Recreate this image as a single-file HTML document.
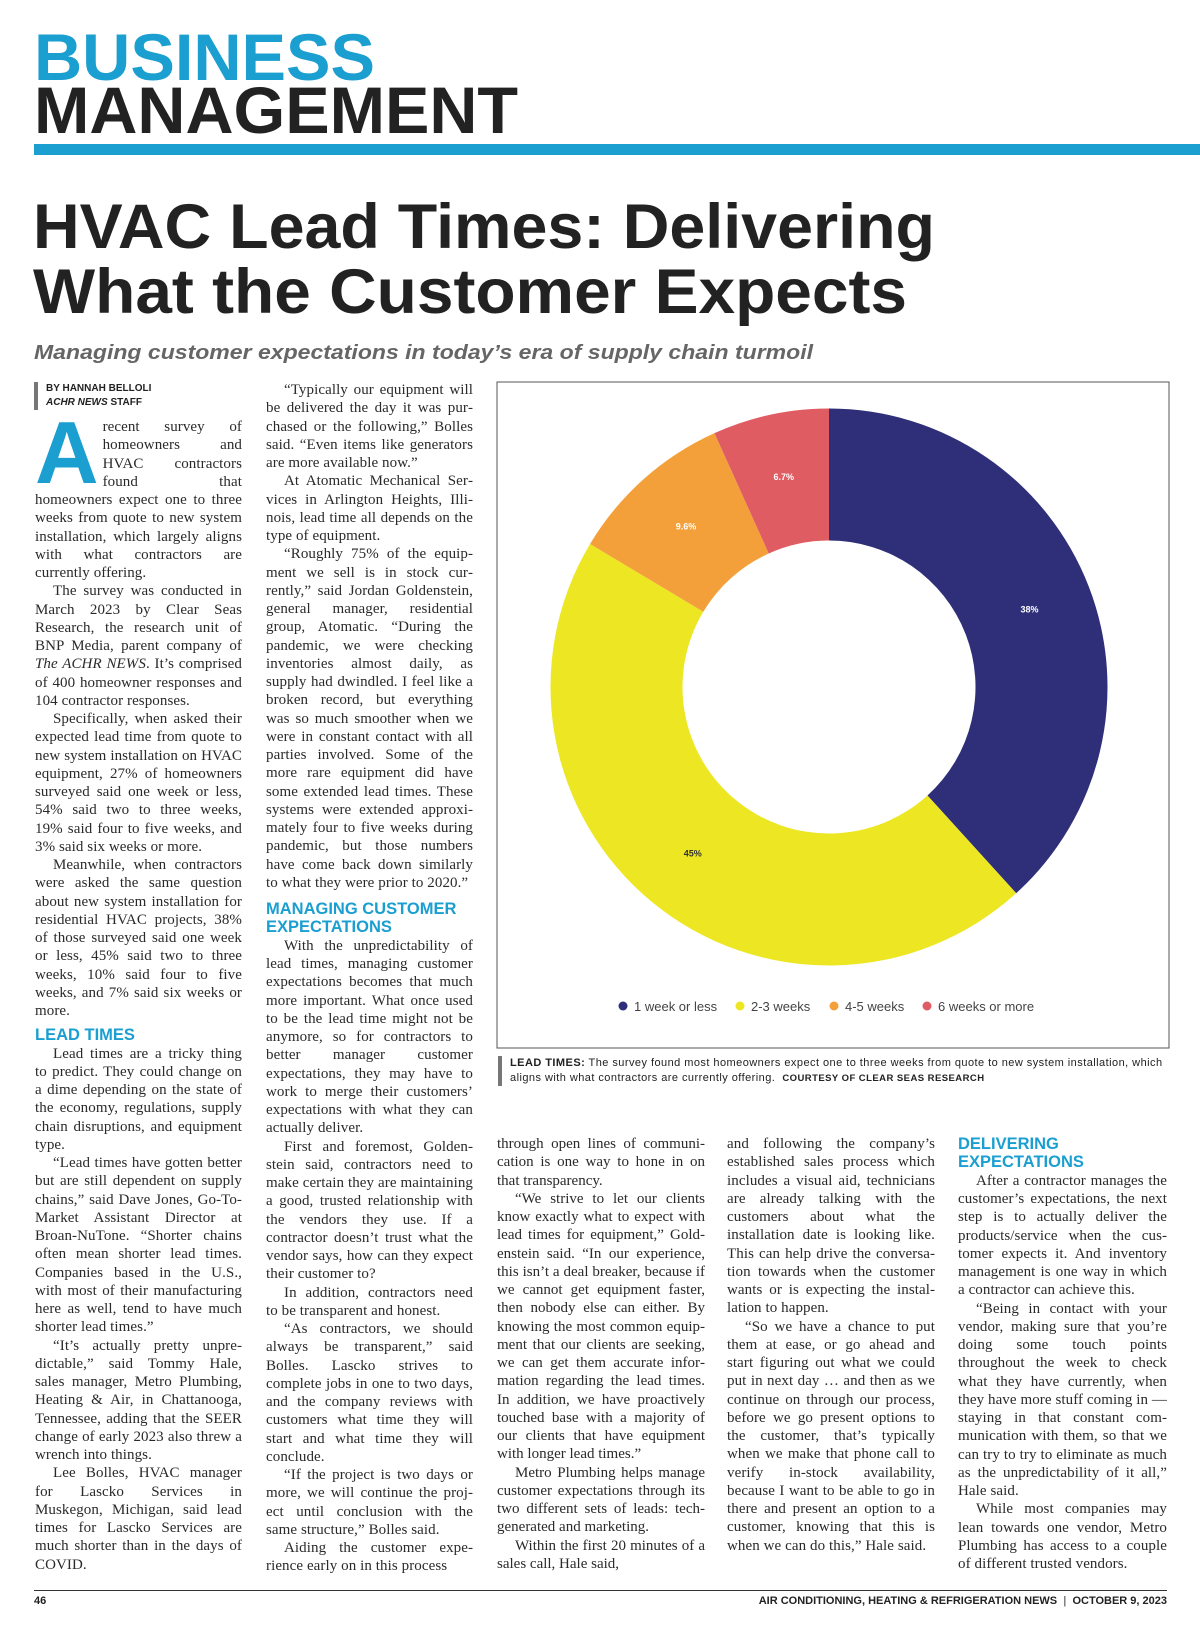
<!DOCTYPE html>
<html lang="en">
<head>
<meta charset="utf-8">
<style>
html,body{margin:0;padding:0;background:#fff;}
body{width:1200px;height:1628px;position:relative;overflow:hidden;font-family:"Liberation Serif",serif;color:#222;}
.abs{position:absolute;}
.col{position:absolute;font-family:"Liberation Serif",serif;font-size:15px;letter-spacing:0.08px;line-height:18.25px;text-align:justify;hyphens:auto;-webkit-hyphens:auto;color:#2a2a2a;}
.col p{margin:0;text-indent:18px;}
.col p.ni{text-indent:0;}
.hd{font-family:"Liberation Sans",sans-serif;font-weight:bold;color:#1a9fd0;font-size:16.5px;letter-spacing:0;line-height:18.4px;margin:4px 0 0 0;text-indent:0;text-align:left;}
.dropcap{float:left;font-family:"Liberation Sans",sans-serif;font-weight:bold;color:#1a9fd0;font-size:88px;letter-spacing:0;line-height:66px;height:68px;margin:2px 4px 0 0;}
</style>
</head>
<body>
<svg class="abs" style="left:0;top:0" width="1200" height="370">
  <text x="34" y="80" font-family="Liberation Sans, sans-serif" font-weight="bold" font-size="66" fill="#1a9fd0" textLength="341" lengthAdjust="spacingAndGlyphs">BUSINESS</text>
  <text x="34" y="133" font-family="Liberation Sans, sans-serif" font-weight="bold" font-size="66" fill="#222" textLength="484" lengthAdjust="spacingAndGlyphs">MANAGEMENT</text>
  <rect x="34" y="144" width="1166" height="11" fill="#1a9fd0"/>
  <text x="33" y="248" font-family="Liberation Sans, sans-serif" font-weight="bold" font-size="63" fill="#222" textLength="902" lengthAdjust="spacingAndGlyphs">HVAC Lead Times: Delivering</text>
  <text x="33" y="313" font-family="Liberation Sans, sans-serif" font-weight="bold" font-size="63" fill="#222" textLength="874" lengthAdjust="spacingAndGlyphs">What the Customer Expects</text>
  <text x="34" y="359" font-family="Liberation Sans, sans-serif" font-weight="bold" font-style="italic" font-size="20" fill="#666" textLength="779" lengthAdjust="spacingAndGlyphs">Managing customer expectations in today’s era of supply chain turmoil</text>
</svg>

<div class="abs" style="left:34px;top:382px;border-left:4px solid #777;padding-left:8px;font-family:'Liberation Sans',sans-serif;font-weight:bold;font-size:10px;line-height:14px;color:#222;">
  <div>BY HANNAH BELLOLI</div>
  <div><i>ACHR NEWS</i> STAFF</div>
</div>

<div class="col" style="left:35px;top:418px;width:207px;">
<p class="ni"><span class="dropcap">A</span>recent survey of home&shy;owners and HVAC contractors found that homeowners expect one to three weeks from quote to new system installation, which largely aligns with what contrac&shy;tors are currently offering.</p>
<p>The survey was conducted in March 2023 by Clear Seas Research, the research unit of BNP Media, parent company of <i>The ACHR NEWS</i>. It’s comprised of 400 homeowner responses and 104 contractor responses.</p>
<p>Specifically, when asked their expected lead time from quote to new system installa&shy;tion on HVAC equipment, 27% of homeowners surveyed said one week or less, 54% said two to three weeks, 19% said four to five weeks, and 3% said six weeks or more.</p>
<p>Meanwhile, when contractors were asked the same question about new system installation for residential HVAC projects, 38% of those surveyed said one week or less, 45% said two to three weeks, 10% said four to five weeks, and 7% said six weeks or more.</p>
<div class="hd" style="margin-top:6px">LEAD TIMES</div>
<p>Lead times are a tricky thing to predict. They could change on a dime depending on the state of the economy, regulations, supply chain disruptions, and equip&shy;ment type.</p>
<p>“Lead times have gotten better but are still dependent on supply chains,” said Dave Jones, Go-To-Market Assistant Director at Broan-NuTone. “Shorter chains often mean shorter lead times. Companies based in the U.S., with most of their manufactur&shy;ing here as well, tend to have much shorter lead times.”</p>
<p>“It’s actually pretty unpre&shy;dictable,” said Tommy Hale, sales manager, Metro Plumbing, Heating &amp; Air, in Chattanooga, Tennessee, adding that the SEER change of early 2023 also threw a wrench into things.</p>
<p>Lee Bolles, HVAC manager for Lascko Services in Muskegon, Michigan, said lead times for Lascko Services are much shorter than in the days of COVID.</p>
</div>

<div class="col" style="left:266px;top:381px;width:207px;">
<p>“Typically our equipment will be delivered the day it was pur&shy;chased or the following,” Bolles said. “Even items like generators are more available now.”</p>
<p>At Atomatic Mechanical Ser&shy;vices in Arlington Heights, Illi&shy;nois, lead time all depends on the type of equipment.</p>
<p>“Roughly 75% of the equip&shy;ment we sell is in stock cur&shy;rently,” said Jordan Goldenstein, general manager, residential group, Atomatic. “During the pandemic, we were checking inventories almost daily, as supply had dwindled. I feel like a broken record, but everything was so much smoother when we were in constant contact with all parties involved. Some of the more rare equipment did have some extended lead times. These systems were extended approxi&shy;mately four to five weeks during pandemic, but those numbers have come back down similarly to what they were prior to 2020.”</p>
<div class="hd" style="margin-top:8px">MANAGING CUSTOMER EXPECTATIONS</div>
<p>With the unpredictability of lead times, managing customer expectations becomes that much more important. What once used to be the lead time might not be anymore, so for contrac&shy;tors to better manager customer expectations, they may have to work to merge their customers’ expectations with what they can actually deliver.</p>
<p>First and foremost, Golden&shy;stein said, contractors need to make certain they are maintain&shy;ing a good, trusted relationship with the vendors they use. If a contractor doesn’t trust what the vendor says, how can they expect their customer to?</p>
<p>In addition, contractors need to be transparent and honest.</p>
<p>“As contractors, we should always be transparent,” said Bolles. Lascko strives to complete jobs in one to two days, and the company reviews with custom&shy;ers what time they will start and what time they will conclude.</p>
<p>“If the project is two days or more, we will continue the proj&shy;ect until conclusion with the same structure,” Bolles said.</p>
<p>Aiding the customer expe&shy;rience early on in this process</p>
</div>

<div class="col" style="left:497px;top:1135px;width:208px;letter-spacing:0px;">
<p class="ni">through open lines of communi&shy;cation is one way to hone in on that transparency.</p>
<p>“We strive to let our clients know exactly what to expect with lead times for equipment,” Gold&shy;enstein said. “In our experience, this isn’t a deal breaker, because if we cannot get equipment faster, then nobody else can either. By knowing the most common equip&shy;ment that our clients are seeking, we can get them accurate infor&shy;mation regarding the lead times. In addition, we have proactively touched base with a majority of our clients that have equipment with longer lead times.”</p>
<p>Metro Plumbing helps manage customer expectations through its two different sets of leads: tech-generated and marketing.</p>
<p>Within the first 20 min&shy;utes of a sales call, Hale said,</p>
</div>

<div class="col" style="left:727px;top:1135px;width:208px;">
<p class="ni">and following the company’s established sales process which includes a visual aid, techni&shy;cians are already talking with the customers about what the installation date is looking like. This can help drive the conversa&shy;tion towards when the customer wants or is expecting the instal&shy;lation to happen.</p>
<p>“So we have a chance to put them at ease, or go ahead and start figuring out what we could put in next day … and then as we continue on through our process, before we go present options to the customer, that’s typically when we make that phone call to verify in-stock availability, because I want to be able to go in there and pres&shy;ent an option to a customer, knowing that this is when we can do this,” Hale said.</p>
</div>

<div class="col" style="left:958px;top:1133px;width:209px;">
<div class="hd" style="margin-top:2px">DELIVERING EXPECTATIONS</div>
<p>After a contractor manages the customer’s expectations, the next step is to actually deliver the products/service when the cus&shy;tomer expects it. And inventory management is one way in which a contractor can achieve this.</p>
<p>“Being in contact with your vendor, making sure that you’re doing some touch points throughout the week to check what they have currently, when they have more stuff coming in — staying in that constant com&shy;munication with them, so that we can try to try to eliminate as much as the unpredictability of it all,” Hale said.</p>
<p>While most companies may lean towards one vendor, Metro Plumbing has access to a couple of different trusted vendors.</p>
</div>

<svg class="abs" id="chart" style="left:0;top:0" width="1200" height="1100">
  <rect x="497" y="382" width="672" height="666" fill="#fff" stroke="#555" stroke-width="1"/>
  <g id="slices"></g>
  <g id="labels"></g>
  <g id="legend"></g>
</svg>

<div class="abs" style="left:498px;top:1056px;width:670px;border-left:4px solid #777;padding-left:8px;font-family:'Liberation Sans',sans-serif;font-size:11px;letter-spacing:0.45px;line-height:15px;color:#222;">
<b>LEAD TIMES:</b> The survey found most homeowners expect one to three weeks from quote to new system installation, which aligns with what contractors are currently offering. &nbsp;<b style="font-size:9.5px">COURTESY OF CLEAR SEAS RESEARCH</b>
</div>

<div class="abs" style="left:34px;top:1590px;width:1133px;height:1px;background:#333;"></div>
<div class="abs" style="left:34px;top:1595px;font-family:'Liberation Sans',sans-serif;font-weight:bold;font-size:11px;color:#222;">46</div>
<div class="abs" style="right:33px;top:1595px;font-family:'Liberation Sans',sans-serif;font-weight:bold;font-size:11px;color:#222;">AIR CONDITIONING, HEATING &amp; REFRIGERATION NEWS &nbsp;<span style="color:#777">|</span>&nbsp; OCTOBER 9, 2023</div>

<script>
const categories = ["1 week or less", "2-3 weeks", "4-5 weeks", "6 weeks or more"];
const values = [38, 45, 9.6, 6.7];
const valueLabels = ["38%", "45%", "9.6%", "6.7%"];
const colors = ["#2e2f78", "#ece623", "#f4a03a", "#e05c63"];
const labelColors = ["#fff", "#333", "#fff", "#fff"];

const NS = "http://www.w3.org/2000/svg";
const cx = 829, cy = 687, rOut = 278.5, rIn = 146.5;
const total = values.reduce((a, b) => a + b, 0);
function angleOf(v) { return v / total * Math.PI * 2; }
function pt(a, r) { return [cx + r * Math.sin(a), cy - r * Math.cos(a)]; }

const sg = document.getElementById("slices");
const lg = document.getElementById("labels");
let acc = 0;
values.forEach((v, i) => {
  const a0 = angleOf(acc), a1 = angleOf(acc + v);
  acc += v;
  const large = (a1 - a0) > Math.PI ? 1 : 0;
  const p0 = pt(a0, rOut), p1 = pt(a1, rOut), p2 = pt(a1, rIn), p3 = pt(a0, rIn);
  const path = document.createElementNS(NS, "path");
  path.setAttribute("d", `M${p0[0]},${p0[1]} A${rOut},${rOut} 0 ${large} 1 ${p1[0]},${p1[1]} L${p2[0]},${p2[1]} A${rIn},${rIn} 0 ${large} 0 ${p3[0]},${p3[1]} Z`);
  path.setAttribute("fill", colors[i]);
  
  
  sg.appendChild(path);
  const lp = pt((a0 + a1) / 2, 215);
  const t = document.createElementNS(NS, "text");
  t.setAttribute("x", lp[0]);
  t.setAttribute("y", lp[1] + 3);
  t.setAttribute("text-anchor", "middle");
  t.setAttribute("font-family", "Liberation Sans, sans-serif");
  t.setAttribute("font-weight", "bold");
  t.setAttribute("font-size", "9");
  t.setAttribute("fill", labelColors[i]);
  t.textContent = valueLabels[i];
  
  
  lg.appendChild(t);
});

const leg = document.getElementById("legend");
const legX = [623, 740, 834, 927];
categories.forEach((c, i) => {
  const g = document.createElementNS(NS, "g");
  
  
  const d = document.createElementNS(NS, "circle");
  d.setAttribute("cx", legX[i]); d.setAttribute("cy", 1006); d.setAttribute("r", 4.5);
  d.setAttribute("fill", colors[i]);
  g.appendChild(d);
  const t = document.createElementNS(NS, "text");
  t.setAttribute("x", legX[i] + 11); t.setAttribute("y", 1011);
  t.setAttribute("font-family", "Liberation Sans, sans-serif");
  t.setAttribute("font-size", "13"); t.setAttribute("fill", "#444");
  t.textContent = c;
  g.appendChild(t);
  leg.appendChild(g);
});
</script>
</body>
</html>
